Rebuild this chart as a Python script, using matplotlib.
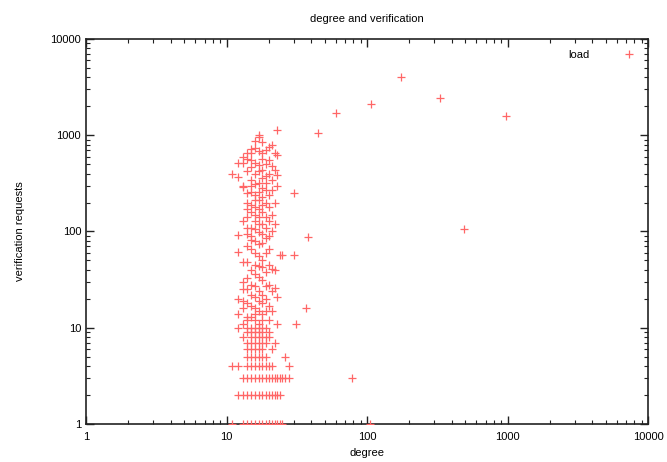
import matplotlib
matplotlib.use("Agg")
import matplotlib.pyplot as plt
from matplotlib.ticker import LogLocator, NullFormatter, FixedLocator, FixedFormatter

plt.rcParams['font.family'] = ['Liberation Sans', 'DejaVu Sans']

# integer-valued low rows: requests value -> list of degrees
row_1 = [11, 13, 14, 15, 16, 17, 18, 19, 20, 21, 22, 23, 24, 25, 105]
row_2 = [12, 13, 14, 15, 16, 17, 18, 19, 20, 21, 22, 23, 24]
row_3 = [13, 14, 15, 16, 17, 18, 19, 20, 21, 22, 23, 24, 25, 26, 28, 78]
row_4 = [11, 12, 14, 15, 16, 17, 18, 19, 20, 21, 28]
row_5 = [14, 15, 16, 17, 18, 19, 26]
row_6 = [14, 15, 16, 17, 18, 21]
row_7 = [14, 15, 16, 17, 18, 19, 22]
row_8 = [13, 15, 16, 17, 18, 19, 20]
row_9 = [14, 15, 16, 17, 18, 20]
row_10 = [12, 14, 15, 16, 17, 18, 19]

# higher requests, grouped by degree
deg_11 = [400]
deg_12 = [510, 370, 92, 61, 20, 14]
deg_13 = [590, 510, 300, 290, 130, 48, 30, 25, 19, 16, 11]
deg_14 = [650, 560, 420, 250, 200, 170, 140, 110, 95, 70, 48, 33, 25, 18, 13, 12]
deg_15 = [720, 650, 550, 470, 340, 300, 260, 190, 160, 110, 90, 82, 65, 40, 28, 22, 17, 13]
deg_16 = [880, 740, 520, 400, 310, 240, 210, 180, 150, 130, 105, 80, 60, 45, 36, 27, 21, 16, 14, 12]
deg_17 = [1000, 950, 680, 490, 420, 320, 260, 210, 170, 140, 120, 98, 75, 55, 44, 34, 24, 19, 15, 11]
deg_18 = [860, 650, 560, 440, 360, 280, 230, 190, 160, 120, 95, 76, 50, 43, 31, 22, 18, 14, 12]
deg_19 = [700, 500, 380, 320, 270, 200, 140, 110, 85, 60, 38, 27, 20, 15]
deg_20 = [760, 550, 400, 240, 180, 130, 90, 65, 45, 28, 17, 12]
deg_21 = [790, 480, 340, 270, 150, 100, 41, 24, 15]
deg_22 = [650, 440, 200, 120, 40, 26]
deg_23 = [1130, 620, 385, 300, 21, 11]
deg_24 = [57]
deg_25 = [57]
deg_30 = [250, 57]
deg_31 = [11]
deg_37 = [16]
deg_38 = [87]
outlier_degree = [45, 60, 107, 175, 332, 493, 970]
outlier_requests = [1050, 1700, 2100, 4000, 2430, 106, 1580]

degree = []
requests = []
for val, row in [(1, row_1), (2, row_2), (3, row_3), (4, row_4), (5, row_5),
                 (6, row_6), (7, row_7), (8, row_8), (9, row_9), (10, row_10)]:
    degree += row
    requests += [val] * len(row)
for d, vals in [(11, deg_11), (12, deg_12), (13, deg_13), (14, deg_14), (15, deg_15),
                (16, deg_16), (17, deg_17), (18, deg_18), (19, deg_19), (20, deg_20),
                (21, deg_21), (22, deg_22), (23, deg_23), (24, deg_24), (25, deg_25),
                (30, deg_30), (31, deg_31), (37, deg_37), (38, deg_38)]:
    degree += [d] * len(vals)
    requests += vals
degree += outlier_degree
requests += outlier_requests

tick_vals = [1, 10, 100, 1000, 10000]
tick_labels = ["1", "10", "100", "1000", "10000"]

fig = plt.figure(figsize=(6.67, 4.62), dpi=100)
ax = fig.add_axes([0.129, 0.0823, 0.8425, 0.8333])
ax.set_xscale('log')
ax.set_yscale('log')
ax.plot(degree, requests, linestyle='none', marker='+', color='#ff6666',
        markersize=5.8, markeredgewidth=0.9, label='load', zorder=3)
ax.set_xlim(1, 10000)
ax.set_ylim(1, 10000)
for axis in (ax.xaxis, ax.yaxis):
    axis.set_major_locator(FixedLocator(tick_vals))
    axis.set_major_formatter(FixedFormatter(tick_labels))
    axis.set_minor_locator(LogLocator(base=10, subs=range(2, 10), numticks=20))
    axis.set_minor_formatter(NullFormatter())
ax.tick_params(which='both', direction='in', top=True, right=True, labelsize=8, color='#222222')
ax.tick_params(which='major', length=6, width=1)
ax.tick_params(which='minor', length=3, width=0.8)
ax.tick_params(axis='x', pad=6)
for s in ax.spines.values():
    s.set_linewidth(1.2)
    s.set_color('#222222')
ax.set_title('degree and verification', fontsize=8, pad=12)
ax.set_xlabel('degree', fontsize=8, labelpad=4)
ax.set_ylabel('verification requests', fontsize=8, labelpad=18)
leg = ax.legend(loc='upper right', frameon=False, fontsize=8, markerfirst=False,
                handlelength=1.5, handletextpad=2.8, borderaxespad=0.6)
fig.savefig('out.png', dpi=100)
